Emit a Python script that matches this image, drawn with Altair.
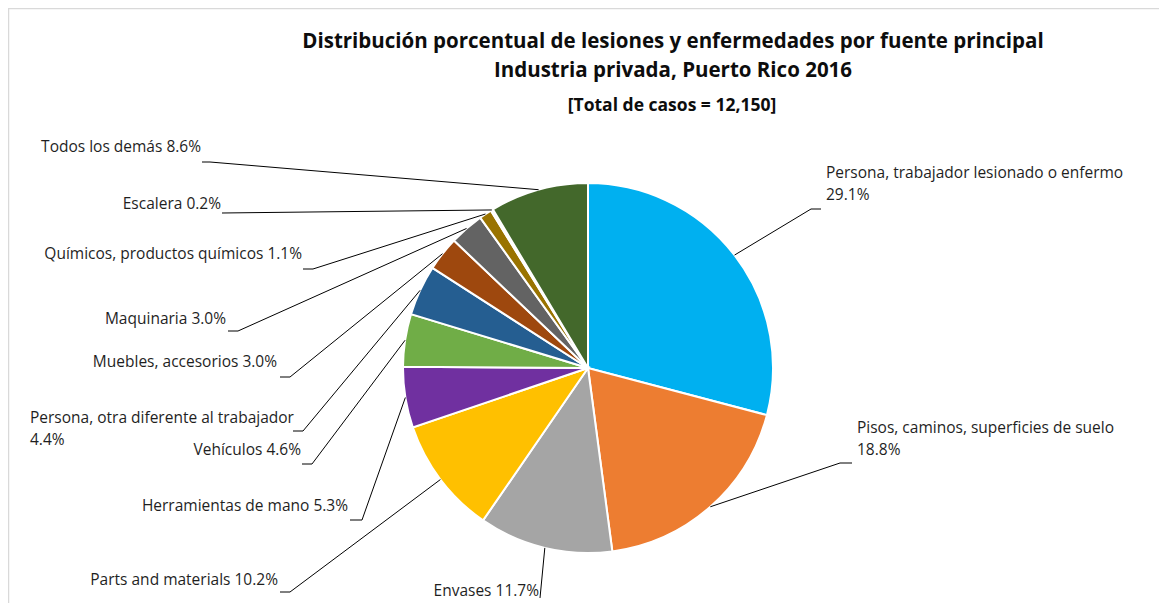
import altair as alt
import pandas as pd

# ---------------- data ----------------
categories = [
    "Persona, trabajador lesionado o enfermo",
    "Pisos, caminos, superficies de suelo",
    "Envases",
    "Parts and materials",
    "Herramientas de mano",
    "Vehículos",
    "Persona, otra diferente al trabajador",
    "Muebles, accesorios",
    "Maquinaria",
    "Químicos, productos químicos",
    "Escalera",
    "Todos los demás",
]
values = [29.1, 18.8, 11.7, 10.2, 5.3, 4.6, 4.4, 3.0, 3.0, 1.1, 0.2, 8.6]
wrapped = [True, True, False, False, False, False, True, False, False, False, False, False]

title_line1 = "Distribución porcentual de lesiones y enfermedades por fuente principal"
title_line2 = "Industria privada, Puerto Rico 2016"
subtitle = "[Total  de casos = 12,150]"

# ---------------- styles / layout (page px) ----------------
colors = ["#00B0F0", "#ED7D31", "#A5A5A5", "#FFC000", "#7030A0", "#70AD47",
          "#255E91", "#9E480E", "#636363", "#997300", "#F2F2F2", "#43682B"]
label_x = [826, 857, 539, 278, 348, 301, 30, 277, 226, 302, 221, 201]
label_y = [173, 428, 591, 580, 506, 450, 418, 362, 319, 254, 204, 147]
label_align = ["left", "left", "right", "right", "right", "right", "left",
               "right", "right", "right", "right", "right"]
elbow_x = [811, 840, 540, 290, 362, 312, 303, 290, 238, 313, 222, 210]
elbow_y = [209, 463, 598, 592, 520, 464, 431, 377, 331, 269, 213, 162]
end_x = [821, 852, 540, 280, 350, 302, 293, 280, 228, 303, 222, 202]
end_y = [209, 463, 598, 592, 520, 464, 431, 377, 331, 269, 213, 162]

OFF = 8
W, H = 1151, 595
CX, CY, R = 588 - OFF, 368 - OFF, 185
FONT = "Open Sans"
LABEL_SIZE = 15.5

labels = [f"{c}\n{v:.1f}%" if w else f"{c} {v:.1f}%" for c, v, w in zip(categories, values, wrapped)]

df = pd.DataFrame({
    "idx": list(range(len(categories))),
    "category": categories,
    "value": values,
    "label": labels,
    "align": label_align,
    "tx": [v - OFF for v in label_x],
    "ty": [v - OFF for v in label_y],
    "ex": [v - OFF for v in elbow_x],
    "ey": [v - OFF for v in elbow_y],
    "fx": [v - OFF for v in end_x],
    "fy": [v - OFF for v in end_y],
})

base = alt.Chart(df)

pie = base.mark_arc(outerRadius=R, stroke="white", strokeWidth=2).encode(
    theta=alt.Theta("value:Q", stack=True),
    order=alt.Order("idx:Q", sort="ascending"),
    color=alt.Color("category:N", scale=alt.Scale(domain=categories, range=colors), legend=None),
    x=alt.value(CX),
    y=alt.value(CY),
)

lead = base.transform_joinaggregate(total="sum(value)").transform_window(
    cum="sum(value)", sort=[alt.SortField("idx")], frame=[None, 0]
).transform_calculate(
    mid="(datum.cum - datum.value / 2) / datum.total * 2 * PI",
    sx=f"{CX} + {R} * sin(datum.mid)",
    sy=f"{CY} - {R} * cos(datum.mid)",
)

rule1 = lead.mark_rule(color="#000000", strokeWidth=1).encode(
    x=alt.X("sx:Q", scale=None, axis=None),
    y=alt.Y("sy:Q", scale=None, axis=None),
    x2="ex:Q",
    y2="ey:Q",
)
rule2 = base.mark_rule(color="#000000", strokeWidth=1).encode(
    x=alt.X("ex:Q", scale=None, axis=None),
    y=alt.Y("ey:Q", scale=None, axis=None),
    x2="fx:Q",
    y2="fy:Q",
)

text_left = base.transform_filter("datum.align == 'left'").mark_text(
    align="left", baseline="middle", font=FONT, fontSize=LABEL_SIZE, color="#1F1F1F",
    lineBreak="\n", lineHeight=22,
).encode(
    x=alt.X("tx:Q", scale=None, axis=None),
    y=alt.Y("ty:Q", scale=None, axis=None),
    text="label:N",
)
text_right = base.transform_filter("datum.align == 'right'").mark_text(
    align="right", baseline="middle", font=FONT, fontSize=LABEL_SIZE, color="#1F1F1F",
    lineBreak="\n", lineHeight=22,
).encode(
    x=alt.X("tx:Q", scale=None, axis=None),
    y=alt.Y("ty:Q", scale=None, axis=None),
    text="label:N",
)

titles = pd.DataFrame({
    "t": [title_line1, title_line2, subtitle],
    "ty": [42 - OFF, 71 - OFF, 106 - OFF],
    "size": [20.5, 20.5, 17.5],
})
title_big = alt.Chart(titles).transform_filter("datum.size > 19").mark_text(
    align="center", baseline="middle", font=FONT, fontSize=20.5, fontWeight="bold", color="#0D0D0D"
).encode(x=alt.value(673 - OFF), y=alt.Y("ty:Q", scale=None, axis=None), text="t:N")
title_small = alt.Chart(titles).transform_filter("datum.size < 19").mark_text(
    align="center", baseline="middle", font=FONT, fontSize=17.5, fontWeight="bold", color="#0D0D0D"
).encode(x=alt.value(672 - OFF), y=alt.Y("ty:Q", scale=None, axis=None), text="t:N")

border = alt.Chart(pd.DataFrame({"a": [0]})).mark_rule(color="#D9D9D9", strokeWidth=1.5).encode(
    x=alt.value(0), x2=alt.value(W), y=alt.value(0.5), y2=alt.value(0.5)
)
border2 = alt.Chart(pd.DataFrame({"a": [0]})).mark_rule(color="#D9D9D9", strokeWidth=1.5).encode(
    x=alt.value(0.5), x2=alt.value(0.5), y=alt.value(0), y2=alt.value(H)
)

chart = alt.layer(border, border2, pie, rule1, rule2, text_left, text_right, title_big, title_small).properties(
    width=W, height=H, padding=0, autosize=alt.AutoSizeParams(type="none"),
    background="white",
).configure_view(stroke=None)

chart.save("out.html", embed_options={"renderer": "svg", "actions": False})
